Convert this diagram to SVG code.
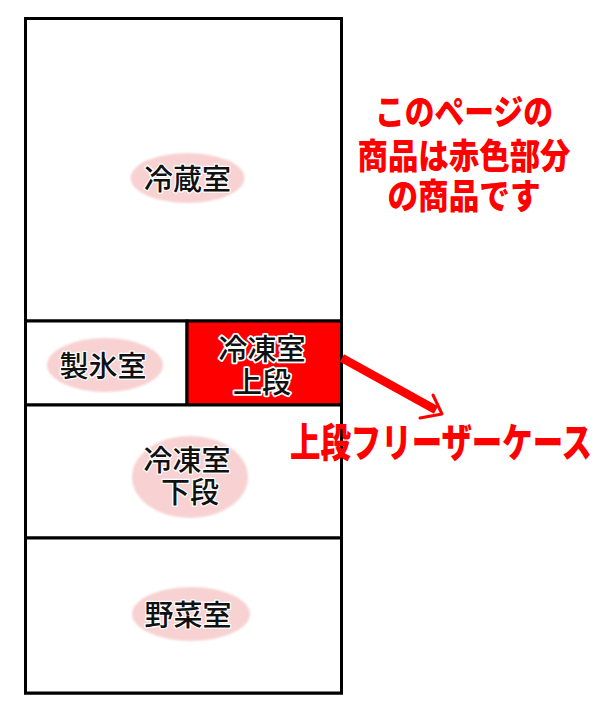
<svg xmlns="http://www.w3.org/2000/svg" width="600" height="720" viewBox="0 0 600 720">
<defs>
<filter id="soft" x="-10%" y="-10%" width="120%" height="120%"><feGaussianBlur stdDeviation="1.2"/></filter>
<style>
.wall{fill:#ffffff;stroke:#000000;stroke-width:3}
.lbl{font-family:"Noto Sans CJK JP","Noto Sans",sans-serif;font-size:29px;font-weight:500;fill:#111111;text-anchor:middle;stroke:#ffffff;stroke-width:2.5;paint-order:stroke;stroke-linejoin:round}
.pink{fill:#f8d2d2;filter:url(#soft)}
.note{font-family:"Noto Sans CJK JP","Noto Sans",sans-serif;font-size:35px;font-weight:900;fill:#ff0000;text-anchor:middle}
</style>
</defs>
<rect width="600" height="720" fill="#ffffff"/>
<g id="refrigerator">
<rect class="wall" x="25.5" y="18.5" width="316" height="674.5"/>
</g>
<g id="reizoushitsu">
<rect class="wall" x="25.5" y="18.5" width="316" height="302.5"/>
<ellipse class="pink" cx="187.5" cy="178" rx="57" ry="25"/>
<text class="lbl" x="187.5" y="190">冷蔵室</text>
</g>
<g id="seihyoushitsu">
<rect class="wall" x="25.5" y="321" width="161.5" height="84"/>
<ellipse class="pink" cx="105" cy="365" rx="58" ry="27"/>
<text class="lbl" x="103" y="377">製氷室</text>
</g>
<g id="reitoushitsu-jodan">
<rect x="187" y="321" width="154.5" height="84" fill="#ff0000" stroke="#000000" stroke-width="3"/>
<text class="lbl" x="262" y="360" style="stroke-width:3.5">冷凍室</text>
<text class="lbl" x="262" y="393" style="stroke-width:3.5">上段</text>
</g>
<g id="reitoushitsu-gedan">
<rect class="wall" x="25.5" y="405" width="316" height="133"/>
<ellipse class="pink" cx="190" cy="477" rx="58" ry="41"/>
<text class="lbl" x="187" y="471">冷凍室</text>
<text class="lbl" x="190" y="503">下段</text>
</g>
<g id="yasaishitsu">
<rect class="wall" x="25.5" y="538" width="316" height="155"/>
<ellipse class="pink" cx="191" cy="614" rx="59" ry="27"/>
<text class="lbl" x="188" y="626">野菜室</text>
</g>
<g id="note">
<text class="note" x="464" y="125" textLength="178" lengthAdjust="spacingAndGlyphs">このページの</text>
<text class="note" x="464" y="169" textLength="213" lengthAdjust="spacingAndGlyphs">商品は赤色部分</text>
<text class="note" x="464" y="209" textLength="153" lengthAdjust="spacingAndGlyphs">の商品です</text>
</g>
<g id="freezer-case-label">
<text class="note" x="441" y="457" style="font-size:40px" textLength="302" lengthAdjust="spacingAndGlyphs">上段フリーザーケース</text>
</g>
<g id="connectors">
<line x1="342" y1="358" x2="436" y2="410" stroke="#ff0000" stroke-width="8.5"/>
<polyline points="433,395 442,414 420,418" fill="none" stroke="#ff0000" stroke-width="3" stroke-linecap="round" stroke-linejoin="round"/>
</g>
</svg>
